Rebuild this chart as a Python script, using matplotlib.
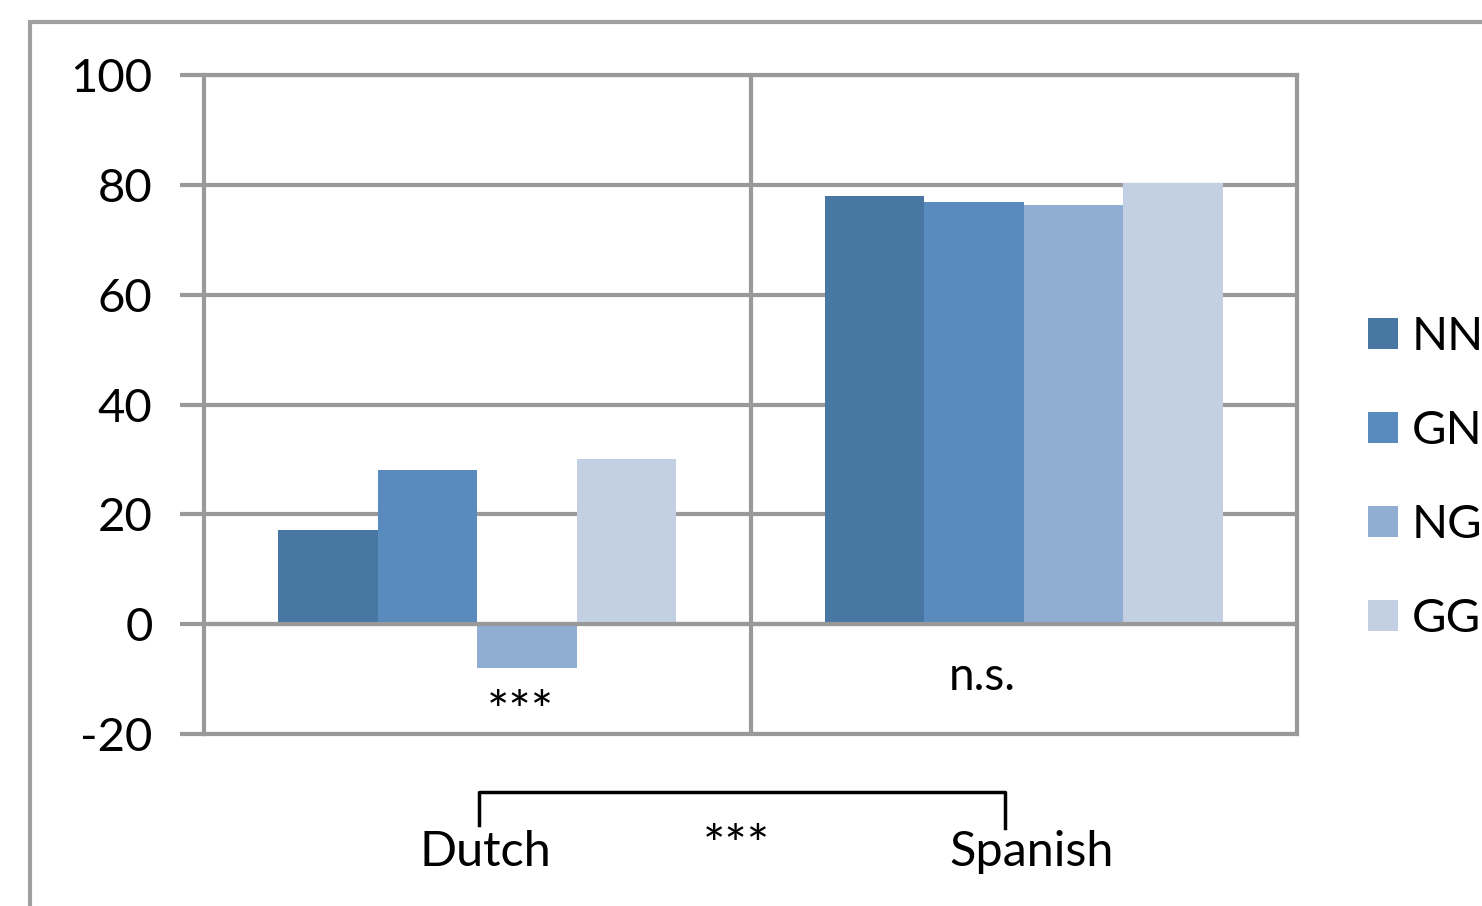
import matplotlib
matplotlib.use("Agg")
import matplotlib.pyplot as plt
from matplotlib.patches import Rectangle
from matplotlib.transforms import blended_transform_factory
import numpy as np

plt.rcParams["font.family"] = ["Lato", "DejaVu Sans"]

languages = ["Dutch", "Spanish"]
conditions = ["NN", "GN", "NG", "GG"]
nn = [17.1, 78.0]
gn = [28.0, 76.9]
ng = [-8.0, 76.3]
gg = [30.0, 80.3]
colors = ["#4977A4", "#598BBE", "#90ADD2", "#C3CFE3"]
yticks = [-20, 0, 20, 40, 60, 80, 100]
within_marks = ["***", "n.s."]
between_mark = "***"

grid_gray = "#999999"
W, H = 1482, 906
fig = plt.figure(figsize=(W / 100, H / 100), dpi=100)
ax = fig.add_axes([204 / W, 1 - 734 / H, (1297 - 204) / W, (734 - 75) / H])

x = np.arange(len(languages))
width = 0.182
series = [nn, gn, ng, gg]
for i, (vals, col, lab) in enumerate(zip(series, colors, conditions)):
    ax.bar(x + (i - 1.5) * width, vals, width, color=col, label=lab,
           zorder=3, linewidth=0)

ax.set_xlim(-0.5, 1.5)
ax.set_ylim(-20, 100)
ax.set_yticks(yticks)
ax.set_yticklabels([str(v) for v in yticks])
ax.yaxis.grid(True, color=grid_gray, linewidth=3, zorder=1)
ax.axvline(0.5, color=grid_gray, linewidth=3, zorder=1)
ax.axhline(0, color=grid_gray, linewidth=3, zorder=4)
for s in ax.spines.values():
    s.set_color(grid_gray)
    s.set_linewidth(3)
ax.tick_params(axis="y", length=17, width=3, color=grid_gray,
               labelsize=34, pad=20)
ax.set_xticks(x + 0.015)
ax.set_xticklabels(languages)
ax.tick_params(axis="x", length=0, labelsize=35, pad=69)

# significance markers within each language
ax.text(0.078, -16.4, within_marks[0], ha="center", va="center",
        fontsize=38, zorder=5)
ax.text(0.924, -9.6, within_marks[1], ha="center", va="center",
        fontsize=33, zorder=5)

# bracket comparing the two languages
tr = blended_transform_factory(ax.transData, ax.transAxes)
yb = -58 / 659
ax.plot([0.003, 0.003, 0.966, 0.966], [-91 / 659, yb, yb, -94 / 659],
        color="black", linewidth=2.5, transform=tr, clip_on=False)
ax.text(0.474, -114 / 659, between_mark, ha="center", va="center",
        fontsize=38, transform=tr)

leg = ax.legend(loc="upper left", bbox_to_anchor=(1368 / W, 1 - 316 / H),
                bbox_transform=fig.transFigure, frameon=False, fontsize=34,
                handlelength=0.63, handleheight=0.63, handletextpad=0.3,
                labelspacing=1.1, borderpad=0, borderaxespad=0)

# outer chart-area border
fig.patches.append(Rectangle((30 / W, -0.2), 2.0, 1.2 - 22 / H,
                             transform=fig.transFigure, fill=False,
                             edgecolor="#A0A0A0", linewidth=3))

fig.savefig("out.png", dpi=100)
